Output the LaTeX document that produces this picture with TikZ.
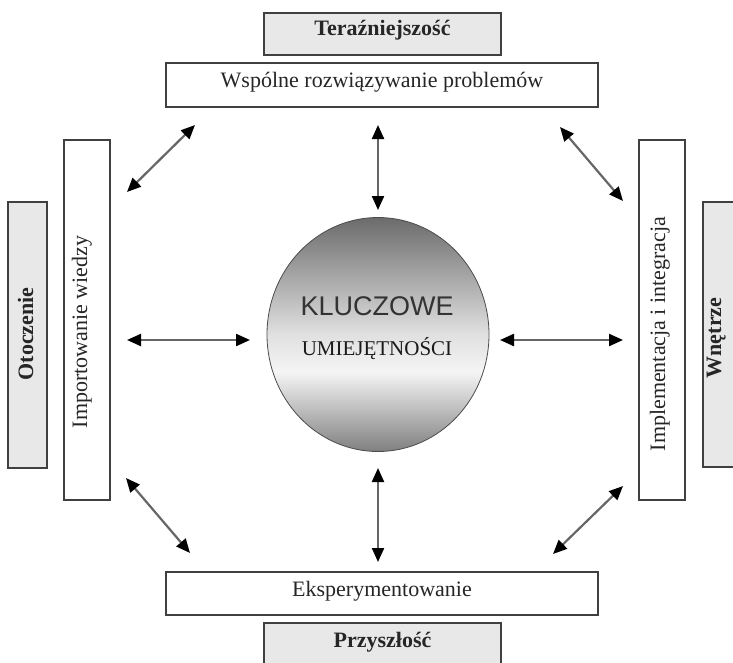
\documentclass[tikz,border=0pt]{standalone}
\usepackage{fontspec}
\setmainfont{Liberation Serif}
\newfontfamily\kfont{Liberation Sans}
\usetikzlibrary{arrows.meta,shapes.geometric}
\pgfdeclareverticalshading{kshade}{100bp}{color(0bp)=(black!50); color(25bp)=(black!50); color(42bp)=(black!4); color(50bp)=(black!12); color(75bp)=(black!58); color(100bp)=(black!58)}
\begin{document}
\begin{tikzpicture}[x=1pt,y=-1pt,
  box/.style={draw=black!75, line width=1.1pt, fill=white, inner sep=0pt},
  graybox/.style={box, fill=black!9},
  lbl/.style={font=\fontsize{22}{26}\selectfont, text=black!85, inner sep=0pt, anchor=base},
  blbl/.style={lbl, font=\fontsize{22}{26}\selectfont\bfseries},
  dbl/.style={{Triangle[length=14pt,width=12pt,color=black]}-{Triangle[length=14pt,width=12pt,color=black]}, draw=black!60, line width=2.2pt}]
\clip (0,0) rectangle (733,662);
\fill[white] (0,0) rectangle (733,662);

% boxes
\node[graybox, minimum width=237, minimum height=42] (ter) at (382.5,34) {};
\node[box, minimum width=432, minimum height=44] (wsp) at (382,85) {};
\node[box, minimum width=432, minimum height=43] (eks) at (382,593.5) {};
\node[graybox, minimum width=237, minimum height=57] (prz) at (382.5,651.5) {};
\node[box, minimum width=46, minimum height=360] (imp) at (87,320) {};
\node[box, minimum width=46, minimum height=360] (impl) at (662,320) {};
\node[graybox, minimum width=39, minimum height=266] (oto) at (27.5,335) {};
\node[graybox, minimum width=57, minimum height=265] (wne) at (731.5,334.5) {};

% texts
\node[blbl] (terT) at (382.5,35) {Teraźniejszość};
\node[lbl] (wspT) at (382,87) {Wspólne rozwiązywanie problemów};
\node[lbl] (eksT) at (382,596) {Eksperymentowanie};
\node[blbl] (przT) at (382.5,647) {Przyszłość};
\node[lbl, rotate=90] (impT) at (87,332) {Importowanie wiedzy};
\node[lbl, rotate=90] (implT) at (665,334) {Implementacja i integracja};
\node[blbl, rotate=90] (otoT) at (33,334) {Otoczenie};
\node[blbl, rotate=90] (wneT) at (721,338) {Wnętrze};

% core
\node[ellipse, draw=black!70, line width=0.8pt, shading=kshade, minimum width=222, minimum height=234, inner sep=0pt] (core) at (378,334.5) {};
\node[inner sep=0pt, anchor=base, font=\kfont\fontsize{27}{30}\selectfont, text=black!80] (k1) at (377,315) {KLUCZOWE};
\node[inner sep=0pt, anchor=base, font=\fontsize{21}{24}\selectfont, text=black!90] (k2) at (377,355) {UMIEJĘTNOŚCI};

% arrow end points
\coordinate (a1s) at (127,192); \coordinate (a1e) at (195,125);
\coordinate (a2s) at (378,125); \coordinate (a2e) at (378,210);
\coordinate (a3s) at (560,127); \coordinate (a3e) at (623,201);
\coordinate (a4s) at (127,340); \coordinate (a4e) at (250,340);
\coordinate (a5s) at (500,340); \coordinate (a5e) at (623,340);
\coordinate (a6s) at (126,478); \coordinate (a6e) at (190,553);
\coordinate (a7s) at (378,468); \coordinate (a7e) at (378,562);
\coordinate (a8s) at (553,554); \coordinate (a8e) at (623,486);

\foreach \i in {1,...,8} \draw[dbl] (a\i s) -- (a\i e);
\end{tikzpicture}
\end{document}
